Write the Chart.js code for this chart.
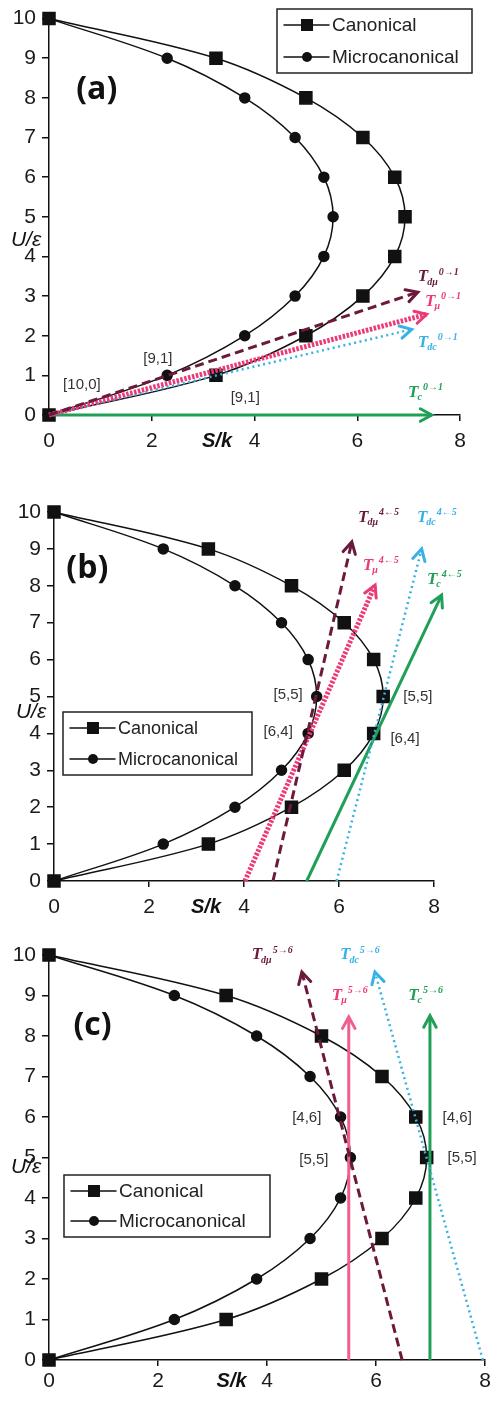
<!DOCTYPE html>
<html>
<head>
<meta charset="utf-8">
<script src="https://cdn.jsdelivr.net/npm/chart.js@4.4.1/dist/chart.umd.min.js"></script>
<style>
  html, body { margin: 0; padding: 0; background: #fff; }
  body { width: 495px; height: 1401px; position: relative; overflow: hidden; }
  canvas { position: absolute; left: 0; }
</style>
</head>
<body>
<canvas id="chartA" width="495" height="465" style="top:0px"></canvas>
<canvas id="chartB" width="495" height="470" style="top:465px"></canvas>
<canvas id="chartC" width="495" height="466" style="top:935px"></canvas>
<script>
// ---- data ----
const sTicks = [0, 2, 4, 6, 8];
const uTicks = [0, 1, 2, 3, 4, 5, 6, 7, 8, 9, 10];
const energyU = [0, 1, 2, 3, 4, 5, 6, 7, 8, 9, 10];
const canonicalS = [0, 3.25, 5.0, 6.11, 6.73, 6.93, 6.73, 6.11, 5.0, 3.25, 0];
const microcanonicalS = [0, 2.30, 3.81, 4.79, 5.35, 5.53, 5.35, 4.79, 3.81, 2.30, 0];

// arrows in order T_dμ, T_μ, T_dc, T_c : [S from, U from, S to, U to]
const arrowSubs = ['dμ', 'μ', 'dc', 'c'];
const arrowsA = [[0, 0, 7.18, 3.10], [0, 0, 7.35, 2.54], [0, 0, 7.06, 2.16], [0, 0, 7.45, 0]];
const arrowsB = [[4.61, 0, 6.27, 9.19], [4.02, 0, 6.76, 8.02], [5.95, 0, 7.74, 9.0], [5.32, 0, 8.16, 7.75]];
const arrowsC = [[6.48, 0, 4.64, 9.58], [5.5, 0, 5.5, 8.47], [7.96, 0, 5.98, 9.58], [6.99, 0, 6.99, 8.5]];
const transitions = ['0→1', '4←5', '5→6'];

const bracketsA = ['[10,0]', '[9,1]', '[9,1]'];
const bracketsB = ['[5,5]', '[6,4]', '[5,5]', '[6,4]'];
const bracketsC = ['[4,6]', '[5,5]', '[4,6]', '[5,5]'];

// ---- styling / placement ----
const arrowColors = ['#6b1a3d', '#ec3a78', '#38b1e4', '#1f9f57'];
const FONT = '"Liberation Sans", Arial, sans-serif';
const SERIF = '"Liberation Serif", "Times New Roman", serif';

const panels = [
  { id: 'chartA', arrows: arrowsA, sup: transitions[0], brackets: bracketsA,
    left: 49, right: 35, top: 13, xAxisH: 50, xPad: 8,
    tag: '(a)', tagAt: [0.93, 8.2], uAt: 4.4, sAt: 3.27,
    legend: [277, 9, 195, 64], legendFont: 19, hatched: true,
    bracketAt: [[0.64, 0.77], [2.12, 1.42], [3.82, 0.42]],
    tAt: [[7.18, 3.48], [7.32, 2.86], [7.18, 1.82], [6.99, 0.57]] },
  { id: 'chartB', arrows: arrowsB, sup: transitions[1], brackets: bracketsB,
    left: 54, right: 61, top: 47, xAxisH: 54, xPad: 8,
    tag: '(b)', tagAt: [0.7, 8.45], uAt: 4.58, sAt: 3.2,
    legend: [63, 247, 189, 63], legendFont: 18, hatched: true,
    bracketAt: [[4.93, 5.04], [4.72, 4.04], [7.66, 4.99], [7.39, 3.85]],
    tAt: [[6.4, 9.84], [6.5, 8.56], [7.64, 9.84], [7.85, 8.16]] },
  { id: 'chartC', arrows: arrowsC, sup: transitions[2], brackets: bracketsC,
    left: 49, right: 10, top: 20, xAxisH: 41, xPad: 3,
    tag: '(c)', tagAt: [0.8, 8.25], uAt: 4.77, sAt: 3.35,
    legend: [64, 240, 206, 62], legendFont: 19, hatched: false,
    bracketAt: [[4.73, 5.98], [4.86, 4.94], [7.49, 5.98], [7.58, 4.99]],
    tAt: [[3.72, 10.0], [5.19, 9.0], [5.34, 10.0], [6.59, 9.0]] }
];

function curve(label, sValues, style, radius) {
  return {
    label: label,
    data: sValues.map((s, i) => ({ x: s, y: energyU[i] })),
    showLine: true,
    tension: 0.35,
    borderColor: '#111',
    borderWidth: 1.5,
    backgroundColor: '#111',
    pointStyle: style,
    pointRadius: radius,
    pointHoverRadius: radius,
    clip: false,
    order: 2
  };
}

function arrowDataset(a, i, hatched) {
  const ds = {
    label: 'T' + arrowSubs[i],
    data: [{ x: a[0], y: a[1] }, { x: a[2], y: a[3] }],
    showLine: true,
    borderColor: arrowColors[i],
    borderWidth: 3,
    pointRadius: 0,
    clip: false,
    order: 1
  };
  if (i === 0) ds.borderDash = [9, 5];
  if (i === 1) {
    if (hatched) { ds.borderWidth = 5; ds.borderDash = [2.5, 1.5]; }
    else { ds.borderColor = '#f0608f'; }
  }
  if (i === 2) { ds.borderWidth = 2.5; ds.borderDash = [2, 3.5]; }
  return ds;
}

function decorPlugin(p) {
  return {
    id: 'decor',
    afterDatasetsDraw(chart) {
      const ctx = chart.ctx;
      const xs = chart.scales.x, ys = chart.scales.y;
      const area = chart.chartArea;
      ctx.save();

      // arrow heads
      p.arrows.forEach((a, i) => {
        const pts = chart.getDatasetMeta(2 + i).data;
        const x0 = pts[0].x, y0 = pts[0].y, x1 = pts[1].x, y1 = pts[1].y;
        const ang = Math.atan2(y1 - y0, x1 - x0);
        const len = 13, spread = 0.5;
        ctx.strokeStyle = i === 1 && !p.hatched ? '#f0608f' : arrowColors[i];
        ctx.lineWidth = 3;
        ctx.lineCap = 'round';
        ctx.setLineDash([]);
        ctx.beginPath();
        ctx.moveTo(x1 - len * Math.cos(ang - spread), y1 - len * Math.sin(ang - spread));
        ctx.lineTo(x1, y1);
        ctx.lineTo(x1 - len * Math.cos(ang + spread), y1 - len * Math.sin(ang + spread));
        ctx.stroke();
      });

      // T labels
      p.tAt.forEach((pos, i) => {
        let x = xs.getPixelForValue(pos[0]);
        const y = ys.getPixelForValue(pos[1]);
        ctx.fillStyle = arrowColors[i];
        ctx.textBaseline = 'middle';
        ctx.textAlign = 'left';
        ctx.font = 'bold italic 17px ' + SERIF;
        ctx.fillText('T', x, y);
        x += ctx.measureText('T').width - 1;
        ctx.font = 'bold italic 10px ' + SERIF;
        ctx.fillText(arrowSubs[i], x, y + 5);
        x += ctx.measureText(arrowSubs[i]).width + 1;
        ctx.fillText(p.sup, x, y - 5);
      });

      // state labels
      ctx.fillStyle = '#333';
      ctx.font = '15px ' + FONT;
      ctx.textAlign = 'center';
      ctx.textBaseline = 'middle';
      p.brackets.forEach((t, i) => {
        ctx.fillText(t, xs.getPixelForValue(p.bracketAt[i][0]), ys.getPixelForValue(p.bracketAt[i][1]));
      });

      // panel tag
      ctx.fillStyle = '#111';
      ctx.font = 'bold 32px "Open Sans", ' + FONT;
      ctx.fillText(p.tag, xs.getPixelForValue(p.tagAt[0]), ys.getPixelForValue(p.tagAt[1]));

      // axis titles
      ctx.font = 'italic 21px ' + FONT;
      ctx.fillText('U/ε', area.left - 23, ys.getPixelForValue(p.uAt));
      ctx.font = 'bold italic 20px ' + FONT;
      ctx.fillText('S/k', xs.getPixelForValue(p.sAt), area.bottom + 6 + p.xPad + 12);

      // legend
      const [lx, ly, lw, lh] = p.legend;
      ctx.fillStyle = '#fff';
      ctx.fillRect(lx, ly, lw, lh);
      ctx.strokeStyle = '#222';
      ctx.lineWidth = 1.5;
      ctx.strokeRect(lx, ly, lw, lh);
      const rows = [['Canonical', 'rect'], ['Microcanonical', 'circle']];
      rows.forEach((r, k) => {
        const cy = ly + 16 + k * (lh - 32);
        ctx.strokeStyle = '#111';
        ctx.lineWidth = 1.5;
        ctx.beginPath();
        ctx.moveTo(lx + 7, cy);
        ctx.lineTo(lx + 52, cy);
        ctx.stroke();
        ctx.fillStyle = '#111';
        if (r[1] === 'rect') ctx.fillRect(lx + 24, cy - 6, 12, 12);
        else { ctx.beginPath(); ctx.arc(lx + 30, cy, 5, 0, Math.PI * 2); ctx.fill(); }
        ctx.fillStyle = '#222';
        ctx.font = p.legendFont + 'px ' + FONT;
        ctx.textAlign = 'left';
        ctx.fillText(r[0], lx + 55, cy + 1);
      });
      ctx.restore();
    }
  };
}

panels.forEach(p => {
  const ctx = document.getElementById(p.id).getContext('2d');
  new Chart(ctx, {
    type: 'scatter',
    data: {
      datasets: [
        curve('Canonical', canonicalS, 'rect', 8.5),
        curve('Microcanonical', microcanonicalS, 'circle', 5),
        ...p.arrows.map((a, i) => arrowDataset(a, i, p.hatched))
      ]
    },
    options: {
      responsive: false,
      animation: false,
      events: [],
      layout: { padding: { left: 0, right: p.right, top: p.top, bottom: 0 } },
      plugins: { legend: { display: false }, tooltip: { enabled: false } },
      scales: {
        x: {
          type: 'linear', min: 0, max: 8,
          afterBuildTicks: s => { s.ticks = sTicks.map(v => ({ value: v })); },
          afterFit: s => { s.height = p.xAxisH; },
          grid: { drawOnChartArea: false, drawTicks: true, tickLength: 6, color: '#111', lineWidth: 1.5 },
          border: { color: '#111', width: 1.5 },
          ticks: { color: '#1a1a1a', padding: p.xPad, maxRotation: 0, font: { family: FONT, size: 21 } }
        },
        y: {
          type: 'linear', min: 0, max: 10,
          afterBuildTicks: s => { s.ticks = uTicks.map(v => ({ value: v })); },
          afterFit: s => { s.width = p.left; },
          grid: { drawOnChartArea: false, drawTicks: true, tickLength: 7, color: '#111', lineWidth: 1.5 },
          border: { color: '#111', width: 1.5 },
          ticks: { color: '#1a1a1a', padding: 6, font: { family: FONT, size: 21 } }
        }
      }
    },
    plugins: [decorPlugin(p)]
  });
});
</script>
</body>
</html>
